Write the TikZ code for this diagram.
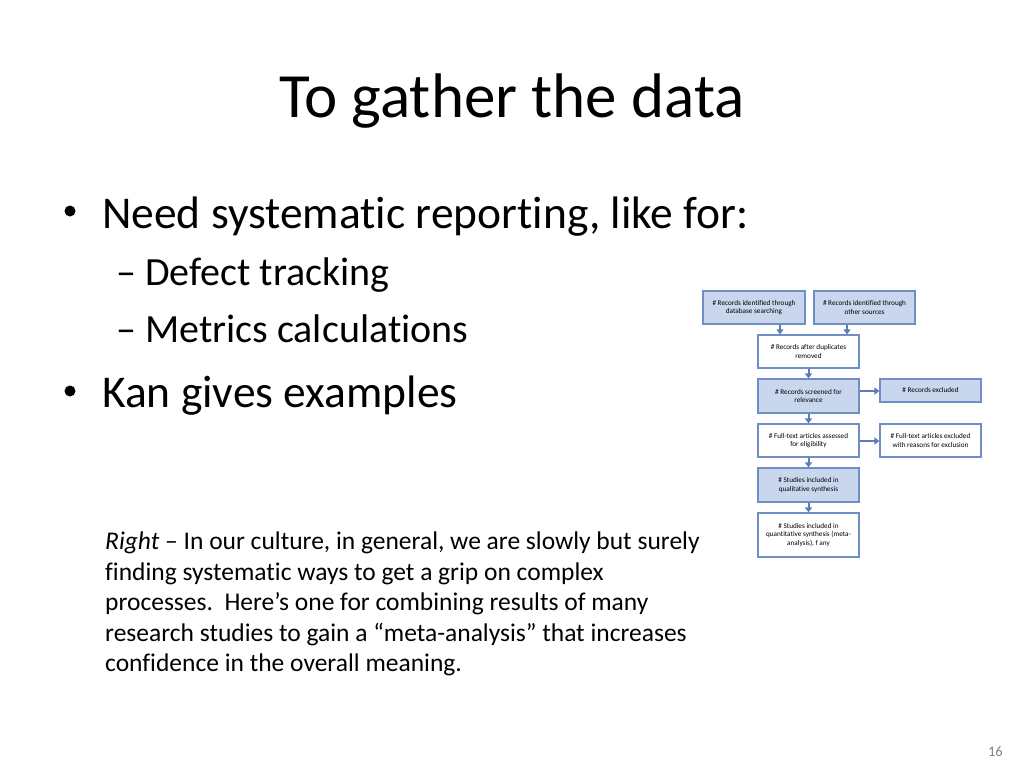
\documentclass[tikz,border=0pt]{standalone}
\usepackage{fontspec}
\setmainfont[Ligatures=NoCommon]{Carlito}
\usetikzlibrary{arrows.meta}
\definecolor{boxblue}{HTML}{C9D7EE}
\definecolor{boxline}{HTML}{6F8FC4}
\definecolor{arrowc}{HTML}{5B7DB5}
\tikzset{
  fbox/.style={draw=boxline, line width=1.2pt, fill=#1, align=center, font=\fontsize{7.2}{8.4}\selectfont, inner sep=1pt},
  fbox/.default=white,
  farrow/.style={draw=arrowc, line width=2pt, -{Triangle[length=5pt,width=7pt]}},
  bodytext/.style={anchor=base west, font=\fontsize{25.5}{30}\selectfont, inner sep=0pt},
  bigtext/.style={anchor=base west, font=\fontsize{45.5}{50}\selectfont, inner sep=0pt},
  subtext/.style={anchor=base west, font=\fontsize{40}{45}\selectfont, inner sep=0pt},
  bulletdot/.style={circle, fill=black, inner sep=0pt, minimum size=11pt},
}
\begin{document}
\begin{tikzpicture}[x=1pt,y=-1pt]
\useasboundingbox (0,0) rectangle (1024,768);
\fill[white] (0,0) rectangle (1024,768);
% title
\node[anchor=base, font=\fontsize{63}{70}\selectfont, inner sep=0pt] (title) at (512,117) {To gather the data};
% bullets
\node[bulletdot] (b1d) at (70,211) {};
\node[bigtext] (b1) at (102,228) {Need systematic reporting, like for:};
\node[subtext] (s1) at (116,285) {– Defect tracking};
\node[subtext] (s2) at (116,342) {– Metrics calculations};
\node[bulletdot] (b2d) at (70,391) {};
\node[bigtext] (b2) at (102,407) {Kan gives examples};
% body text
\node[bodytext] (l1) at (105,549) {\textit{Right} – In our culture, in general, we are slowly but surely};
\node[bodytext] (l2) at (105,580) {finding systematic ways to get a grip on complex};
\node[bodytext] (l3) at (105,610) {processes.\ \ Here’s one for combining results of many};
\node[bodytext] (l4) at (105,641) {research studies to gain a “meta-analysis” that increases};
\node[bodytext] (l5) at (105,671) {confidence in the overall meaning.};
% page number
\node[anchor=base east, font=\fontsize{14.5}{16}\selectfont, text=gray, inner sep=0pt] (pg) at (1003,756) {16};
% flowchart
\node[fbox=boxblue, minimum width=102pt, minimum height=33pt] (A) at (754,307.5) {\# Records identified through\\database searching};
\node[fbox=boxblue, minimum width=101pt, minimum height=33pt] (B) at (864.5,307.5) {\# Records identified through\\other sources};
\node[fbox, minimum width=101pt, minimum height=33pt] (C) at (808.5,351.5) {\# Records after duplicates\\removed};
\node[fbox=boxblue, minimum width=101pt, minimum height=34pt] (D) at (808.5,396) {\# Records screened for\\relevance};
\node[fbox=boxblue, minimum width=101pt, minimum height=23pt] (E) at (930.5,390.5) {\# Records excluded};
\node[fbox, minimum width=101pt, minimum height=33pt] (F) at (808.5,440.5) {\# Full-text articles assessed\\for eligibility};
\node[fbox, minimum width=101pt, minimum height=33pt] (G) at (930.5,440.5) {\# Full-text articles excluded\\with reasons for exclusion};
\node[fbox=boxblue, minimum width=101pt, minimum height=34pt] (H) at (808.5,485) {\# Studies included in\\qualitative synthesis};
\node[fbox, minimum width=101pt, minimum height=44pt] (I) at (808.5,535) {\# Studies included in\\quantitative synthesis (meta-\\analysis), f any};
\draw[farrow] (A.south -| 780,0) -- (C.north -| 780,0);
\draw[farrow] (B.south -| 847,0) -- (C.north -| 847,0);
\draw[farrow] (C) -- (D);
\draw[farrow] (D.east |- 0,391) -- (E.west |- 0,391);
\draw[farrow] (D) -- (F);
\draw[farrow] (F.east |- 0,441) -- (G.west |- 0,441);
\draw[farrow] (F) -- (H);
\draw[farrow] (H) -- (I);
\end{tikzpicture}
\end{document}
